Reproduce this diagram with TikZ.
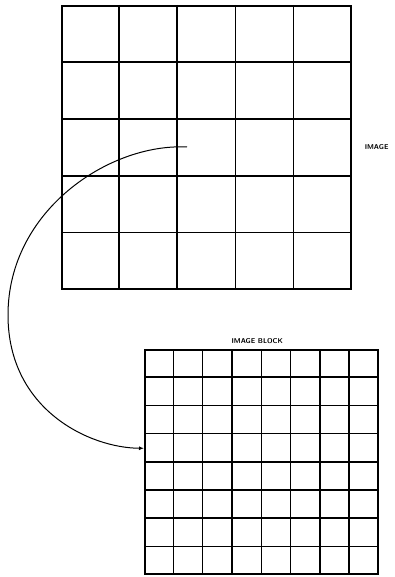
\documentclass[tikz,border=0pt]{standalone}
\usepackage{tikz}
\usetikzlibrary{arrows.meta,positioning,calc}

\begin{document}
\begin{tikzpicture}[
  x=1pt, y=-1pt,
  frame/.style={rectangle, draw=black, line width=1.6pt, inner sep=0pt},
  cell/.style={line width=1.6pt, black},
  lbl/.style={font=\fontsize{7}{8}\selectfont\sffamily\bfseries, inner sep=1pt},
  link/.style={-{Latex[length=5pt,width=4pt]}, line width=1pt},
]
\useasboundingbox (0,0) rectangle (394,577);

% ================= the image, cut into 5 x 5 blocks
\node[frame, minimum width=289pt, minimum height=283pt, anchor=north west] (img) at (61,5) {};
\foreach \i in {1,...,4} {
  \draw[cell] ($(img.north west)!\i/5!(img.north east)$) -- ($(img.south west)!\i/5!(img.south east)$);
  \draw[cell] ($(img.north west)!\i/5!(img.south west)$) -- ($(img.north east)!\i/5!(img.south east)$);
}
\node[lbl, right=12pt of img.east, anchor=west] (imgl) {IMAGE};

% ================= one block, cut into 8 x 8 pixels
\node[frame, minimum width=233pt, minimum height=224pt, anchor=north west] (blk) at (144,349) {};
\foreach \i in {1,...,7} {
  \draw[cell] ($(blk.north west)!\i/8!(blk.north east)$) -- ($(blk.south west)!\i/8!(blk.south east)$);
  \draw[cell] ($(blk.north west)!\i/8!(blk.south west)$) -- ($(blk.north east)!\i/8!(blk.south east)$);
}
\node[lbl, above=4pt of blk.north, xshift=-4pt] (blkl) {IMAGE BLOCK};

% ================= the arrow from a block of the image to the block
\coordinate (pick) at (187,147);
\coordinate (drop) at ($(blk.north west)!0.44!(blk.south west)$);
\draw[link] (pick) .. controls (110,143) and (8,210) .. (8,315)
                   .. controls (8,410) and (90,448) .. (drop);
\end{tikzpicture}
\end{document}
